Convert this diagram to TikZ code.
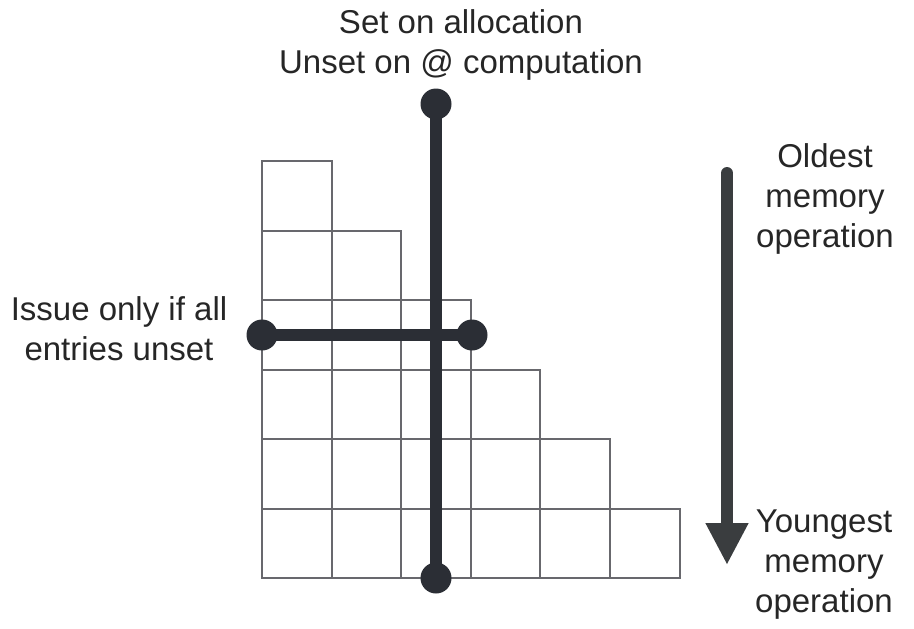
\documentclass[tikz,border=0pt]{standalone}
\usepackage{fontspec}
\setmainfont{Liberation Sans}
\usetikzlibrary{arrows.meta}
\definecolor{gridc}{HTML}{68686D}
\definecolor{barc}{HTML}{2B2E35}
\definecolor{arrc}{HTML}{3A3D3F}
\definecolor{txtc}{HTML}{262626}
\tikzset{
  cellbox/.style={draw=gridc, line width=2pt},
  dotnode/.style={circle, fill=barc, inner sep=0pt, minimum size=31pt},
  barline/.style={draw=barc, line width=12pt},
  arrline/.style={draw=arrc, line width=12pt, line cap=round, -{Triangle[width=40pt,length=42pt]}},
  label/.style={text=txtc, align=center, inner sep=0pt, font=\fontsize{33}{40}\selectfont},
}
\begin{document}
\begin{tikzpicture}[x=1pt,y=-1pt]
\useasboundingbox (0,0) rectangle (914,629);
% staircase grid
\foreach \r in {1,...,6}{
  \foreach \c in {1,...,\r}{
    \draw[cellbox] ({262+(\c-1)*69.6},{161+(\r-1)*69.5}) rectangle ({262+\c*69.6},{161+\r*69.5});
  }
}
% vertical bar
\node[dotnode] (vt) at (436,104) {};
\node[dotnode] (vb) at (436,578) {};
\draw[barline] (vt.center) -- (vb.center);
% horizontal bar
\node[dotnode] (hl) at (262,335) {};
\node[dotnode] (hr) at (472,335) {};
\draw[barline] (hl.center) -- (hr.center);
% age arrow
\coordinate (as) at (727,173);
\coordinate (ae) at (727,565);
\draw[arrline] (as) -- (ae);
% labels
\node[label] (top) at (461,45) {Set on allocation\\Unset on @ computation};
\node[label] (iss) at (119,329) {Issue only if all\\entries unset};
\node[label] (old) at (825,199) {Oldest\\memory\\operation};
\node[label] (yng) at (824,565) {Youngest\\memory\\operation};
\end{tikzpicture}
\end{document}
